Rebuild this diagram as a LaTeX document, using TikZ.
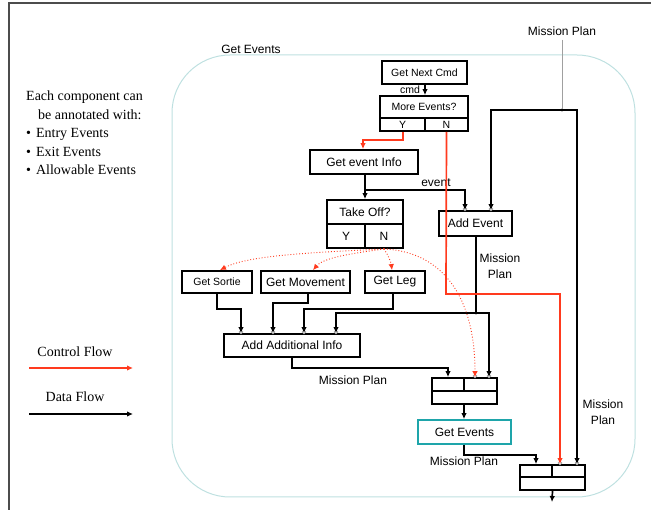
\documentclass[tikz,border=0pt]{standalone}
\usepackage{fontspec}
\setmainfont{Liberation Serif}
\setsansfont{Liberation Sans}
\usetikzlibrary{arrows.meta}
\definecolor{ctrl}{RGB}{255,58,30}
\definecolor{scopeline}{RGB}{190,224,224}
\definecolor{focus}{RGB}{30,165,170}
\definecolor{portgray}{RGB}{160,160,160}
\tikzset{
  box/.style={draw=black, line width=1.8pt, inner sep=0pt,
    font=\sffamily\fontsize{12}{14}\selectfont},
  smallbox/.style={box, font=\sffamily\fontsize{10.5}{12}\selectfont},
  lbl/.style={inner sep=0pt, font=\sffamily\fontsize{12}{16}\selectfont, align=center},
  note/.style={inner sep=0pt, anchor=west, font=\fontsize{14}{18}\selectfont},
  flow/.style={line width=1.7pt, -{Latex[length=6pt,width=5.5pt]}},
  dflow/.style={flow, draw=black},
  cflow/.style={flow, draw=ctrl, color=ctrl},
  hint/.style={draw=ctrl!60, dotted, line width=0.9pt, -{Latex[length=6pt,width=5.5pt]}, color=ctrl},
  port/.style={draw=portgray, line width=0.7pt, fill=white},
}
\begin{document}
\begin{tikzpicture}[x=1pt,y=-1pt]
\useasboundingbox (0,0) rectangle (651,510);

% page frame (top and left edges)
\draw[line width=1.8pt, black!70] (651,3) -- (9,3) -- (9,510);

% scope of the "Get Events" component
\draw[scopeline, line width=1pt, rounded corners=58pt] (172,55) rectangle (635,497);
\node[lbl] (scopename) at (251,49) {Get Events};

% annotation notes
\node[note] (n1) at (26,97) {Each component can};
\node[note] (n2) at (38,115) {be annotated with:};
\node[note] (b1) at (26,134) {\textbullet\hspace{5pt}Entry Events};
\node[note] (b2) at (26,152) {\textbullet\hspace{5pt}Exit Events};
\node[note] (b3) at (26,170) {\textbullet\hspace{5pt}Allowable Events};

% legend
\node[note, anchor=center] (lc) at (75,352) {Control Flow};
\coordinate (lc1) at (29,368); \coordinate (lc2) at (133,368);
\draw[cflow] (lc1) -- (lc2);
\node[note, anchor=center] (ld) at (75,397) {Data Flow};
\coordinate (ld1) at (29,414); \coordinate (ld2) at (133,414);
\draw[dflow] (ld1) -- (ld2);

% boxes
\node[smallbox, minimum width=85pt, minimum height=23pt] (getnext) at (424.5,72.5) {Get Next Cmd};
\node[smallbox, minimum width=88pt, minimum height=22pt] (more) at (424,107) {More Events?};
\node[smallbox, minimum width=45pt, minimum height=13pt] (moreY) at (402.5,124.5) {Y};
\node[smallbox, minimum width=43pt, minimum height=13pt] (moreN) at (446.5,124.5) {N};

\node[box, minimum width=108pt, minimum height=24pt] (getinfo) at (364,162) {Get event Info};
\node[box, minimum width=76pt, minimum height=24pt] (takeoff) at (365,212) {Take Off?};
\node[box, minimum width=38pt, minimum height=24pt] (toY) at (346,236) {Y};
\node[box, minimum width=38pt, minimum height=24pt] (toN) at (384,236) {N};

\node[box, minimum width=73pt, minimum height=25pt] (addevent) at (475.5,223.5) {Add Event};

\node[smallbox, minimum width=70pt, minimum height=22pt] (sortie) at (217,282) {Get Sortie};
\node[box, minimum width=89pt, minimum height=22pt] (movement) at (305.5,282) {Get Movement};
\node[box, minimum width=60pt, minimum height=22pt] (leg) at (395,282) {Get Leg};
\node[box, minimum width=136pt, minimum height=23pt] (addinfo) at (292,345.5) {Add Additional Info};

\node[box, minimum width=32pt, minimum height=13pt] (m1a) at (448,384.5) {};
\node[box, minimum width=33pt, minimum height=13pt] (m1b) at (480.5,384.5) {};
\node[box, minimum width=65pt, minimum height=13pt] (m1c) at (464.5,397.5) {};

\node[box, draw=focus, minimum width=93pt, minimum height=24pt] (getevents) at (464.5,432) {Get Events};

\node[box, minimum width=32pt, minimum height=12pt] (m2a) at (536,471) {};
\node[box, minimum width=33pt, minimum height=12pt] (m2b) at (568.5,471) {};
\node[box, minimum width=65pt, minimum height=13pt] (m2c) at (552.5,483.5) {};

% labels
\node[lbl, font=\sffamily\fontsize{10.5}{12}\selectfont] (cmdlbl) at (410,90) {cmd};
\node[lbl] (eventlbl) at (436,183) {event};
\node[lbl] (mptop) at (562,31) {Mission Plan};
\node[lbl] (mpright) at (603,412) {Mission\\Plan};
\node[lbl] (mpadd) at (500,266) {Mission\\Plan};
\node[lbl] (mpinfo) at (353,380) {Mission Plan};
\node[lbl] (mpget) at (464,461) {Mission Plan};

% junctions
\coordinate (jmp) at (562,110);
\coordinate (jev) at (365,190);
\coordinate (jae) at (476,313);
\coordinate (tail) at (552,502);

% ports on the receiving edges
\foreach \p in {(465,209),(491,209),(241,332),(273,332),(304,332),(336,332),
                (475,376),(489,376),(560,463),(577,463)}
  \draw[port] \p circle (1.8pt);
\fill[portgray] (jmp) circle (1.8pt);
\fill[portgray] (jae) circle (1.8pt);

% data flow
\draw[dflow] (getnext.south -| 425,0) -- (more.north -| 425,0);
\draw[dflow] (getinfo.south -| jev) -- (takeoff.north -| jev);
\draw[dflow] (jev) -| (addevent.north -| 465,0);
\draw[draw=portgray, line width=1pt] (mptop.south) ++(0,4) -- (jmp);
\draw[dflow] (jmp) -| (addevent.north -| 491,0);
\draw[dflow] (jmp) -| (m2b.north -| 577,0);
\draw[line width=1.7pt] (addevent.south -| jae) -- (jae);
\draw[dflow] (jae) -| (addinfo.north -| 336,0);
\draw[dflow] (jae) -| (m1b.north -| 489,0);
\draw[dflow] (sortie.south) -- (217,309) -| (addinfo.north -| 241,0);
\draw[dflow] (movement.south -| 308,0) -- (308,303) -| (addinfo.north -| 273,0);
\draw[dflow] (leg.south -| 393,0) -- (393,309) -| (addinfo.north -| 304,0);
\draw[dflow] (addinfo.south) -- (292,368) -| (m1a.north);
\draw[dflow] (m1c.south -| 464,0) -- (getevents.north -| 464,0);
\draw[dflow] (getevents.south -| 464,0) -- (464,455) -| (m2a.north);
\draw[dflow] (m2c.south) -- (tail);

% control flow
\draw[cflow] (moreY.south -| 403,0) -- (403,140) -| (getinfo.north -| 363,0);
\draw[cflow] (moreN.south) -- (446,294) -| (m2b.north -| 560,0);

% conditional branches of Take Off?
\draw[hint] (toN.south) .. controls (330,252) and (250,254) .. (sortie.north -| 220,0);
\draw[hint] (toN.south) .. controls (365,252) and (325,256) .. (movement.north -| 313,0);
\draw[hint] (toN.south) .. controls (388,255) and (391,262) .. (leg.north -| 392,0);
\draw[hint] (toN.south) .. controls (445,252) and (475,300) .. (m1b.north -| 475,0);
\end{tikzpicture}
\end{document}
